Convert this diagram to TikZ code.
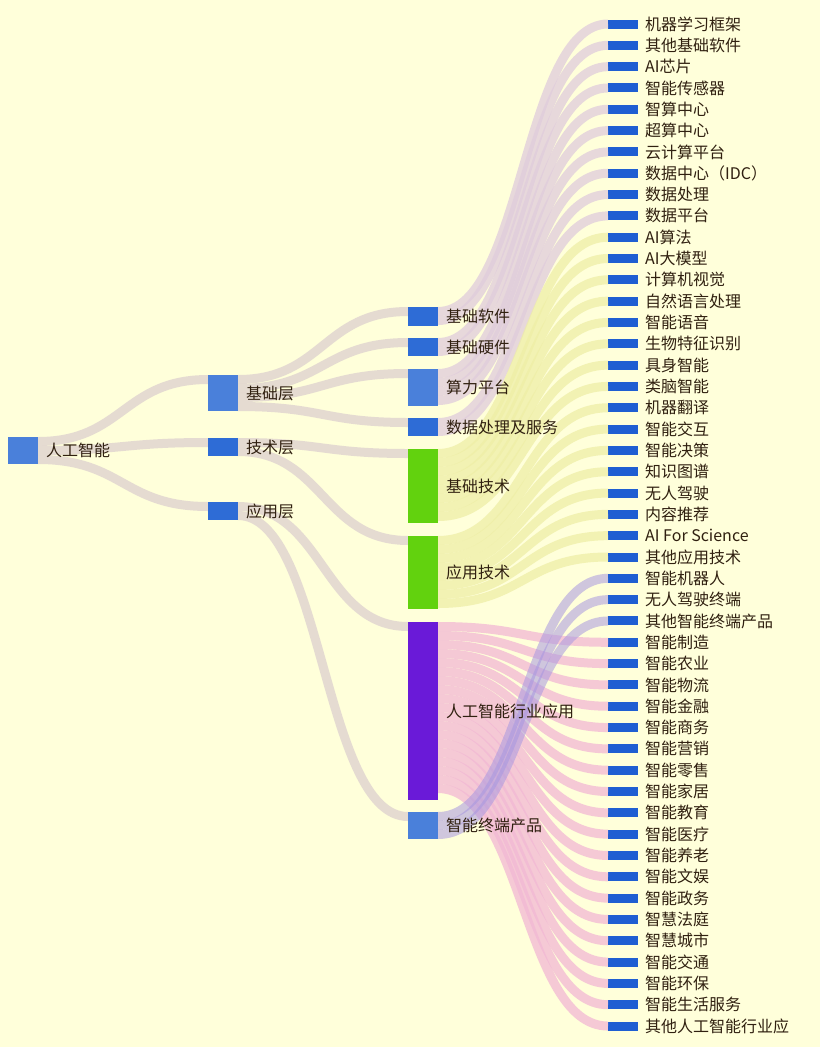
\documentclass[tikz,border=0pt]{standalone}
\usepackage{fontspec}
\setmainfont{Noto Sans CJK SC}
\begin{document}
\begin{tikzpicture}[x=1pt,y=-1pt,
  bx/.style={draw=none,minimum width=30pt,inner sep=0pt,outer sep=0pt},
  lab/.style={anchor=west,text=black!75!brown,font=\fontsize{16}{18}\selectfont,inner sep=0pt},
  lk/.style={line width=9pt,draw opacity=.75},
  gl/.style={lk,draw=lgrey},
  bl/.style={lk,draw=llil},
  grl/.style={lk,draw=lgreen},
  pl/.style={lk,draw=lpink},
  vl/.style={lk,draw=lvio,draw opacity=.55}]
\definecolor{bg}{HTML}{FFFFDA}
\definecolor{lgrey}{HTML}{DDD0CF}
\definecolor{llil}{HTML}{E0CCDC}
\definecolor{lgreen}{HTML}{EEEEA6}
\definecolor{lpink}{HTML}{F2B8D4}
\definecolor{lvio}{HTML}{A898E0}
\definecolor{nb}{HTML}{2E6CD6}
\definecolor{nl}{HTML}{4A80DA}
\definecolor{ng}{HTML}{62D20E}
\definecolor{np}{HTML}{6A1AD8}
\definecolor{nleaf}{HTML}{1F5ED2}
\fill[bg] (0,0) rectangle (820,1047);
\useasboundingbox (0,0) rectangle (820,1047);
% nodes
\node[bx,fill=nl,minimum height=27pt] (R) at (23,450.5) {};
\node[bx,fill=nl,minimum height=36pt] (A1) at (223,393) {};
\node[bx,fill=nb,minimum height=18pt] (A2) at (223,447) {};
\node[bx,fill=nb,minimum height=18pt] (A3) at (223,511) {};
\node[bx,fill=nb,minimum height=19pt] (B1) at (423,316.5) {};
\node[bx,fill=nb,minimum height=18pt] (B2) at (423,347) {};
\node[bx,fill=nl,minimum height=37pt] (B3) at (423,387.5) {};
\node[bx,fill=nb,minimum height=18pt] (B4) at (423,427) {};
\node[bx,fill=ng,minimum height=74pt] (B5) at (423,486) {};
\node[bx,fill=ng,minimum height=73pt] (B6) at (423,572.5) {};
\node[bx,fill=np,minimum height=178pt] (B7) at (423,711) {};
\node[bx,fill=nl,minimum height=27pt] (B8) at (423,825.5) {};
\foreach \t [count=\i from 0] in {机器学习框架,其他基础软件,AI芯片,智能传感器,智算中心,超算中心,云计算平台,数据中心（IDC）,数据处理,数据平台,AI算法,AI大模型,计算机视觉,自然语言处理,智能语音,生物特征识别,具身智能,类脑智能,机器翻译,智能交互,智能决策,知识图谱,无人驾驶,内容推荐,AI For Science,其他应用技术,智能机器人,无人驾驶终端,其他智能终端产品,智能制造,智能农业,智能物流,智能金融,智能商务,智能营销,智能零售,智能家居,智能教育,智能医疗,智能养老,智能文娱,智能政务,智慧法庭,智慧城市,智能交通,智能环保,智能生活服务,其他人工智能行业应}{
  \node[bx,fill=nleaf,minimum height=9pt] (L\i) at (623,{24+\i*21.32}) {};
  \node[lab] at ([xshift=7pt]L\i.east) {\t};
}
% links
\begin{scope}[on background layer/.style={}]
\end{scope}
\foreach \k/\t in {0/A1,1/A2,2/A3}
  \draw[gl] ([yshift=-4.5pt-\k*9pt]R.north east) .. controls +(85,0) and +(-85,0) .. ([yshift=-4.5pt]\t.north west);
\foreach \k/\t in {0/B1,1/B2,2/B3,3/B4}
  \draw[gl] ([yshift=-4.5pt-\k*9pt]A1.north east) .. controls +(85,0) and +(-85,0) .. ([yshift=-4.5pt]\t.north west);
\foreach \k/\t in {0/B5,1/B6}
  \draw[gl] ([yshift=-4.5pt-\k*9pt]A2.north east) .. controls +(85,0) and +(-85,0) .. ([yshift=-4.5pt]\t.north west);
\foreach \k/\t in {0/B7,1/B8}
  \draw[gl] ([yshift=-4.5pt-\k*9pt]A3.north east) .. controls +(85,0) and +(-85,0) .. ([yshift=-4.5pt]\t.north west);
\foreach \p/\f/\n/\s in {B1/0/2/bl,B2/2/2/bl,B3/4/4/bl,B4/8/2/bl,B5/10/8/grl,B6/18/8/grl,B7/29/19/pl,B8/26/3/vl}{
  \pgfmathtruncatemacro\m{\n-1}
  \foreach \k in {0,...,\m}{
    \pgfmathtruncatemacro\j{\f+\k}
    \draw[\s] ([yshift=-4.5pt-\k*9pt]\p.north east) .. controls +(85,0) and +(-85,0) .. (L\j.west);
  }
}
% redraw nodes on top
\foreach \n/\c in {R/nl,A1/nl,A2/nb,A3/nb,B1/nb,B2/nb,B3/nl,B4/nb,B5/ng,B6/ng,B7/np,B8/nl}
  \fill[\c] (\n.north west) rectangle (\n.south east);
\foreach \n/\t in {R/人工智能,A1/基础层,A2/技术层,A3/应用层,B1/基础软件,B2/基础硬件,B3/算力平台,B4/数据处理及服务,B5/基础技术,B6/应用技术,B7/人工智能行业应用,B8/智能终端产品}
  \node[lab] at ([xshift=8pt]\n.east) {\t};
\end{tikzpicture}
\end{document}
